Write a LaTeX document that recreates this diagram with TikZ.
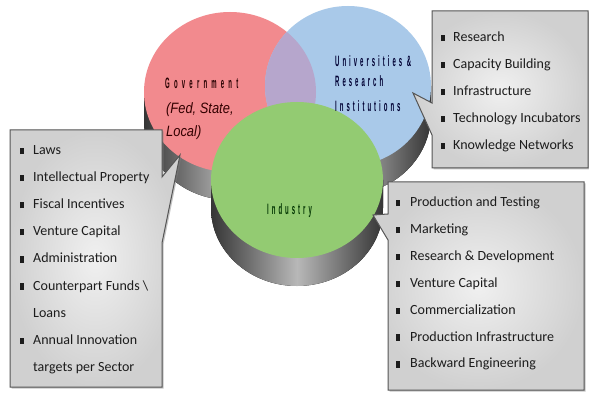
\documentclass[tikz,border=0pt]{standalone}
\usepackage{fontspec}
\setmainfont{Carlito}
\newfontfamily\lsans{Liberation Sans}
\newfontfamily\spacedA[LetterSpace=70]{Liberation Sans}
\newfontfamily\spacedB[LetterSpace=50]{Liberation Sans}
\usetikzlibrary{shadows}
\definecolor{redc}{HTML}{F28A8E}
\definecolor{bluec}{HTML}{A9C9E9}
\definecolor{purplec}{HTML}{B6A6CC}
\definecolor{greenc}{HTML}{93CB72}
\definecolor{sidedark}{HTML}{353535}
\definecolor{sidelight}{HTML}{B8B8B8}
\definecolor{boxin}{HTML}{F0F0F0}
\definecolor{boxout}{HTML}{D0D0D0}
\definecolor{boxline}{HTML}{555555}
\definecolor{txt}{HTML}{1C1C1C}
\newcommand\bl[1]{\makebox[#1][l]{\rule[0.4pt]{3.8pt}{6.2pt}}}
\begin{document}
\begin{tikzpicture}[x=1pt,y=1pt,
  cylside/.style={left color=sidedark, right color=sidedark, middle color=sidelight},
  callout/.style={draw=boxline, line width=1pt, inner color=boxin, outer color=boxout,
     drop shadow={shadow xshift=1.5pt, shadow yshift=-1.5pt, opacity=0.45}},
  item/.style={anchor=base west, inner sep=0pt, font=\fontsize{14}{16}\selectfont, text=txt},
  lblA/.style={anchor=base west, inner sep=0pt, text=#1},
]
\useasboundingbox (0,0) rectangle (589,394);
\fill[white] (0,0) rectangle (589,394);

% cylinder sides
\fill[cylside] (144,302) -- (144,274) arc[start angle=180,end angle=360,x radius=86,y radius=80] -- (316,302) -- cycle;
\fill[cylside] (265,308) -- (265,280) arc[start angle=180,end angle=360,x radius=83,y radius=80] -- (431,308) -- cycle;
% tops
\fill[redc] (230,302) ellipse[x radius=86, y radius=80];
\fill[bluec] (348,308) ellipse[x radius=83, y radius=80];
\begin{scope}
  \clip (348,308) ellipse[x radius=83, y radius=80];
  \fill[purplec] (230,302) ellipse[x radius=86, y radius=80];
\end{scope}
% green cylinder
\fill[cylside] (211,214) -- (211,186) arc[start angle=180,end angle=360,x radius=86,y radius=78] -- (383,214) -- cycle;
\fill[greenc] (297,214) ellipse[x radius=86, y radius=78];

% circle labels
\node[lblA={black!85!red}] (gov) at (165,305) {\scalebox{0.4}[1]{\spacedA\bfseries\fontsize{15}{17}\selectfont Government}};
\node[lblA={black!80!red}] (fed) at (166,280) {\scalebox{0.86}[1]{\lsans\itshape\fontsize{15}{17}\selectfont (Fed, State,}};
\node[lblA={black!80!red}] (loc) at (166,257) {\scalebox{0.86}[1]{\lsans\itshape\fontsize{15}{17}\selectfont Local)}};
\node[lblA={black!80!blue}] (uni1) at (335,327) {\scalebox{0.4}[1]{\spacedB\bfseries\fontsize{15}{17}\selectfont Universities \&}};
\node[lblA={black!80!blue}] (uni2) at (335,307) {\scalebox{0.4}[1]{\spacedB\bfseries\fontsize{15}{17}\selectfont Research}};
\node[lblA={black!80!blue}] (uni3) at (335,282) {\scalebox{0.4}[1]{\spacedB\bfseries\fontsize{15}{17}\selectfont Institutions}};
\node[lblA={black!80!green}] (ind) at (267,179) {\scalebox{0.4}[1]{\spacedB\bfseries\fontsize{15}{17}\selectfont Industry}};

% callouts
\path[callout] (432,383) -- (588,383) -- (588,226) -- (432,226) -- (432,259) -- (413,301) -- (432,291) -- cycle;
\path[callout] (10,264) -- (162,264) -- (162,217) -- (180,239) -- (162,151) -- (162,7) -- (10,7) -- cycle;
\path[callout] (388,212) -- (584,212) -- (584,4) -- (388,4) -- (388,154) -- (373,179) -- (388,180) -- cycle;

% upper right list
\foreach \t [count=\i] in {Research, Capacity Building, Infrastructure, Technology Incubators, Knowledge Networks}
  \node[item] (ur\i) at (441,{352.5-27*(\i-1)}) {\bl{12pt}\t};

% left list
\node[item] (l1) at (20,239.5) {\bl{13pt}Laws};
\node[item] (l2) at (20,212.4) {\bl{13pt}Intellectual Property};
\node[item] (l3) at (20,185.3) {\bl{13pt}Fiscal Incentives};
\node[item] (l4) at (20,158.2) {\bl{13pt}Venture Capital};
\node[item] (l5) at (20,131.1) {\bl{13pt}Administration};
\node[item] (l6) at (20,104.0) {\bl{13pt}Counterpart Funds \textbackslash};
\node[item] (l7) at (33,76.9) {Loans};
\node[item] (l8) at (20,49.8) {\bl{13pt}Annual Innovation};
\node[item] (l9) at (33,22.7) {targets per Sector};

% lower right list
\foreach \t [count=\i] in {Production and Testing, Marketing, Research \& Development, Venture Capital, Commercialization, Production Infrastructure, Backward Engineering}
  \node[item] (lr\i) at (396,{187.5-26.9*(\i-1)}) {\bl{14pt}\t};
\end{tikzpicture}
\end{document}
